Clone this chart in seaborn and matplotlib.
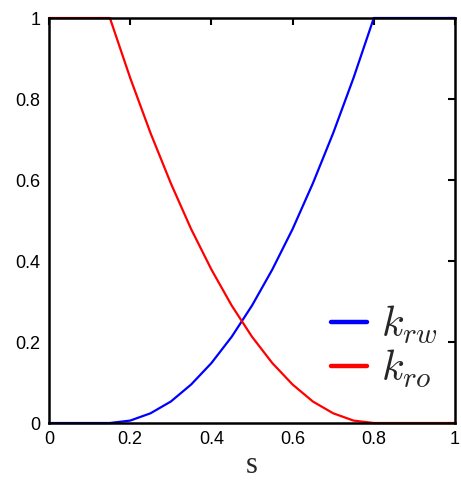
import matplotlib
matplotlib.use("Agg")
import matplotlib.pyplot as plt
from matplotlib.lines import Line2D
from matplotlib.font_manager import FontProperties
import pandas as pd
import seaborn as sns

# Water saturation grid and relative permeabilities
s = [0.00, 0.05, 0.10, 0.15, 0.20, 0.25, 0.30, 0.35, 0.40, 0.45, 0.50,
     0.55, 0.60, 0.65, 0.70, 0.75, 0.80, 0.85, 0.90, 0.95, 1.00]
krw = [0.0, 0.0, 0.0, 0.0, 0.006, 0.024, 0.053, 0.095, 0.148, 0.213, 0.290,
       0.379, 0.479, 0.592, 0.716, 0.852, 1.0, 1.0, 1.0, 1.0, 1.0]
kro = [1.0, 1.0, 1.0, 1.0, 0.852, 0.716, 0.592, 0.479, 0.379, 0.290, 0.213,
       0.148, 0.095, 0.053, 0.024, 0.006, 0.0, 0.0, 0.0, 0.0, 0.0]
labels = [r"$k_{rw}$", r"$k_{ro}$"]
colors = ["#0000ff", "#ff0000"]
ticks = [0, 0.2, 0.4, 0.6, 0.8, 1]
tick_labels = ["0", "0.2", "0.4", "0.6", "0.8", "1"]

df = pd.DataFrame({
    "s": s + s,
    "k": krw + kro,
    "curve": [labels[0]] * len(s) + [labels[1]] * len(s),
})

sns.set_theme(style="white")
plt.rcParams["font.family"] = ["Liberation Sans", "DejaVu Sans"]
plt.rcParams["mathtext.fontset"] = "cm"

fig = plt.figure(figsize=(4.61, 4.83), dpi=100)
ax = fig.add_axes([0.1063, 0.1242, 0.8807, 0.8385])

sns.lineplot(data=df, x="s", y="k", hue="curve", palette=colors,
             linewidth=1.6, ax=ax, legend=False, clip_on=False)

ax.set_xlim(0, 1)
ax.set_ylim(0, 1)
ax.set_xticks(ticks)
ax.set_xticklabels(tick_labels)
ax.set_yticks(ticks)
ax.set_yticklabels(tick_labels)
ax.tick_params(direction="in", length=5, width=1.5, top=True, right=True,
               labelsize=13, colors="black", pad=6)
for sp in ax.spines.values():
    sp.set_visible(True)
    sp.set_color("black")
    sp.set_linewidth(1.8)

serif = FontProperties(family="Liberation Serif", size=22)
ax.set_xlabel("s", fontproperties=serif, labelpad=2)
ax.set_ylabel("")

handles = [Line2D([0], [0], color=c, lw=3.2) for c in colors]
ax.legend(handles, labels, loc="lower right", bbox_to_anchor=(1.0, 0.04),
          frameon=False, fontsize=30, handlelength=0.85, handletextpad=0.35,
          labelspacing=0.05, borderaxespad=0.0)

fig.savefig("out.png", dpi=100)
